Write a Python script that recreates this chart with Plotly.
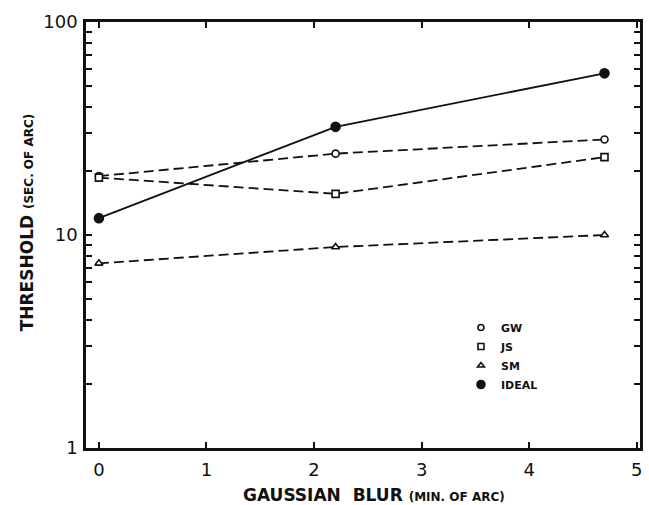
import plotly.graph_objects as go

# Blur levels (min of arc) and detection thresholds (sec of arc)
blur = [0, 2.2, 4.7]
gw = [18.9, 24.1, 28.1]
js = [18.6, 15.6, 23.2]
sm = [7.36, 8.78, 10.0]
ideal = [12.0, 32.2, 57.4]

series_names = ["GW", "JS", "SM", "IDEAL"]
x_ticks = [0, 1, 2, 3, 4, 5]
y_major = [1, 10, 100]

W, H = 649, 505
L, R, T, B = 86, 6, 22, 57

ink = "#111111"
font_family = "DejaVu Sans, Liberation Sans, Arial, sans-serif"

fig = go.Figure()

styles = [
    (gw, "circle", "white", 7, "dash"),
    (js, "square", "white", 7, "dash"),
    (sm, "triangle-up", "white", 7, "dash"),
    (ideal, "circle", ink, 9, "solid"),
]

for name, (vals, sym, fill, size, dash) in zip(series_names, styles):
    fig.add_trace(go.Scatter(
        x=blur, y=vals, mode="lines+markers", name=name, showlegend=False,
        line=dict(color=ink, width=1.8, dash="10px,5px" if dash == "dash" else "solid"),
        marker=dict(symbol=sym, size=size, color=fill, line=dict(color=ink, width=1.6)),
    ))

# Marker-only legend entries
for name, (vals, sym, fill, size, dash) in zip(series_names, styles):
    fig.add_trace(go.Scatter(
        x=[None], y=[None], mode="markers", name=name, showlegend=True,
        marker=dict(symbol=sym, size=size - 1, color=fill, line=dict(color=ink, width=1.6)),
    ))

# log ticks: labels only at the decades
y_tickvals = []
y_ticktext = []
for dec in [1, 10]:
    for m in range(1, 10):
        v = dec * m
        y_tickvals.append(v)
        y_ticktext.append(str(v) if v in y_major else "")
y_tickvals.append(100)
y_ticktext.append("100")

def px_x(p):
    return (p - L) / (W - L - R)

def px_y(p):
    return (H - B - p) / (H - T - B)

fig.update_layout(
    width=W, height=H,
    margin=dict(l=L, r=R, t=T, b=B),
    paper_bgcolor="white", plot_bgcolor="white",
    font=dict(family=font_family, color=ink),
    showlegend=True,
    legend=dict(
        x=px_x(463), y=px_y(313), xanchor="left", yanchor="top",
        bgcolor="rgba(0,0,0,0)", itemwidth=30,
        font=dict(size=11, family=font_family, weight="bold"),
        tracegroupgap=0,
    ),
    xaxis=dict(
        range=[-0.12, 5.03], tickmode="array", tickvals=x_ticks,
        ticktext=[str(v) for v in x_ticks],
        ticks="inside", ticklen=6, tickwidth=2, tickcolor=ink,
        showline=True, linewidth=2.5, linecolor=ink, mirror="ticks",
        showgrid=False, zeroline=False, ticklabelstandoff=4,
        tickfont=dict(size=18, family=font_family),
    ),
    yaxis=dict(
        type="log", range=[0, 2], tickmode="array",
        tickvals=y_tickvals, ticktext=y_ticktext,
        ticks="inside", ticklen=6, tickwidth=2, tickcolor=ink,
        showline=True, linewidth=2.5, linecolor=ink, mirror="ticks",
        showgrid=False, zeroline=False, ticklabelstandoff=2,
        tickfont=dict(size=18, family=font_family),
    ),
    annotations=[
        dict(
            text="GAUSSIAN  BLUR <span style='font-size:12px'>(MIN. OF ARC)</span>",
            xref="paper", yref="paper", x=px_x(376), y=px_y(495),
            xanchor="center", yanchor="middle", showarrow=False,
            font=dict(size=17, family=font_family, weight="bold", color=ink),
        ),
        dict(
            text="THRESHOLD <span style='font-size:12px'>(SEC. OF ARC)</span>",
            xref="paper", yref="paper", x=px_x(27), y=px_y(222),
            xanchor="center", yanchor="middle", showarrow=False, textangle=-90,
            font=dict(size=17, family=font_family, weight="bold", color=ink),
        ),
    ],
)

fig.write_html("out.html")
